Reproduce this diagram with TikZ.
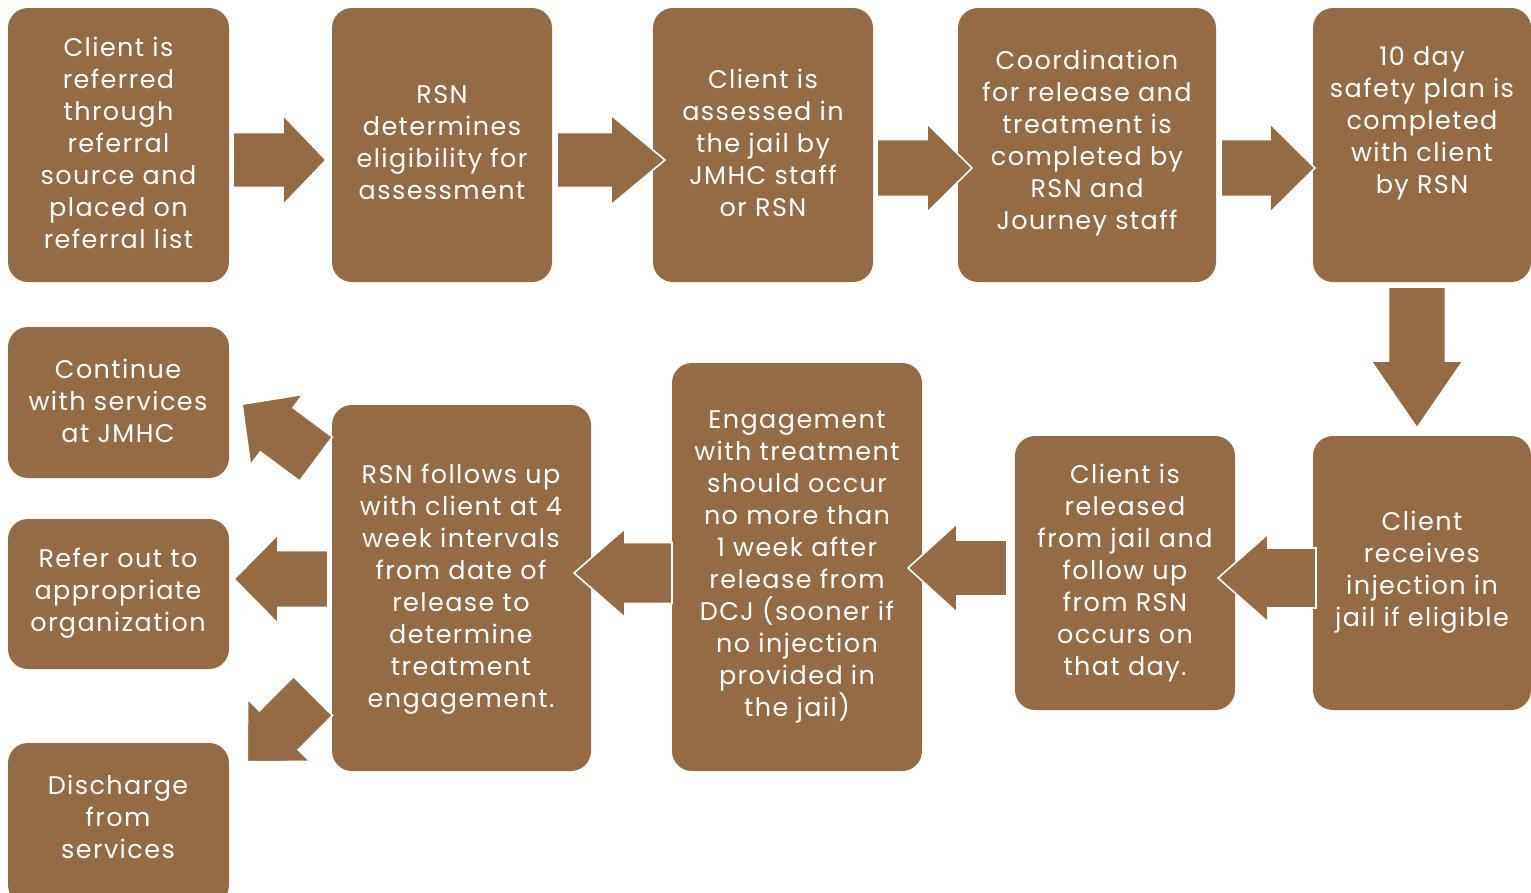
\documentclass[tikz,border=0pt]{standalone}
\usepackage{fontspec}
\setmainfont{Poppins}[LetterSpace=5.5]
\definecolor{brownbox}{RGB}{148,107,68}
\newcommand{\blockarrow}[6]{%
  \begin{scope}[shift={(#1)}, rotate=#2]
    \filldraw[arr] (0,-#5) -- (#3-#4,-#5) -- (#3-#4,-#6) -- (#3,0) -- (#3-#4,#6) -- (#3-#4,#5) -- (0,#5) -- cycle;
  \end{scope}}
\begin{document}
\begin{tikzpicture}[x=1pt,y=-1pt,
  box/.style={fill=brownbox, draw=none, rounded corners=20pt},
  arr/.style={fill=brownbox, draw=white, line width=1.6pt, line join=miter},
  txt/.style={text=white, align=center, inner sep=0pt, font=\fontsize{25.5}{32}\selectfont}]
\useasboundingbox (0,0) rectangle (1531,892);
% boxes
\path[box] (8,8) rectangle (229,282) node[midway] (b1) {};
\path[box] (332,8) rectangle (552,282) node[midway] (b2) {};
\path[box] (653,8) rectangle (873,282) node[midway] (b3) {};
\path[box] (958,8) rectangle (1216,282) node[midway] (b4) {};
\path[box] (1313,8) rectangle (1531,282) node[midway] (b5) {};
\path[box] (1313,436) rectangle (1531,710) node[midway] (b6) {};
\path[box] (1015,436) rectangle (1235,710) node[midway] (b7) {};
\path[box] (672,363) rectangle (922,771) node[midway] (b8) {};
\path[box] (332,405) rectangle (591,771) node[midway] (b9) {};
\path[box] (8,327) rectangle (229,478) node[midway] (l1) {};
\path[box] (8,519) rectangle (229,669) node[midway] (l2) {};
\path[box] (8,743) rectangle (229,905) node[midway] (l3) {};
% arrows
\blockarrow{233,160}{0}{93}{43}{27.5}{45}
\blockarrow{557,160}{0}{108}{54}{27.5}{45}
\blockarrow{877,168}{0}{95}{45}{28.5}{44.5}
\blockarrow{1221,168}{0}{94}{45}{28.5}{44.5}
\blockarrow{1417,287}{-90}{141}{67}{28.5}{46}
\blockarrow{1316,578}{180}{98}{50}{30}{44}
\blockarrow{1007,568}{180}{99}{49}{28}{44.5}
\blockarrow{672,573}{180}{98}{51}{30.5}{44.5}
\blockarrow{328,579}{180}{94}{44}{28.5}{44.5}
\blockarrow{316,459}{143.4}{92}{43}{27.5}{44}
\blockarrow{313,696}{225}{93}{44.5}{27.5}{44}
% texts
\node[txt] (t1) at (118.5,143) {Client is\\referred\\through\\referral\\source and\\placed on\\referral list};
\node[txt] (t2) at (442,143) {RSN\\determines\\eligibility for\\assessment};
\node[txt] (t3) at (763,143) {Client is\\assessed in\\the jail by\\JMHC staff\\or RSN};
\node[txt] (t4) at (1087,143) {Coordination\\for release and\\treatment is\\completed by\\RSN and\\Journey staff};
\node[txt] (t5) at (1422,123) {10 day\\safety plan is\\completed\\with client\\by RSN};
\node[txt] (t6) at (1422,572) {Client\\receives\\injection in\\jail if eligible};
\node[txt] (t7) at (1125,573) {Client is\\released\\from jail and\\follow up\\from RSN\\occurs on\\that day.};
\node[txt] (t8) at (797,567) {Engagement\\with treatment\\should occur\\no more than\\1 week after\\release from\\DCJ (sooner if\\no injection\\provided in\\the jail)};
\node[txt] (t9) at (461,589) {RSN follows up\\with client at 4\\week intervals\\from date of\\release to\\determine\\treatment\\engagement.};
\node[txt] (t10) at (118,401) {Continue\\with services\\at JMHC};
\node[txt] (t11) at (118,593) {Refer out to\\appropriate\\organization};
\node[txt] (t12) at (118,817) {Discharge\\from\\services};
\end{tikzpicture}
\end{document}
